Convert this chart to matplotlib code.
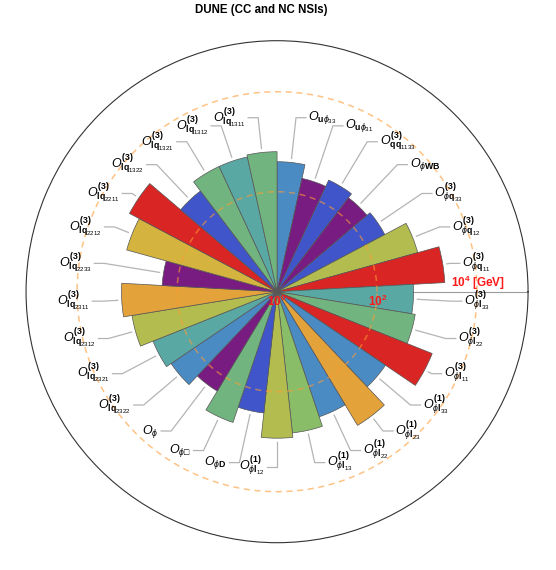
import numpy as np
import matplotlib.pyplot as plt

plt.rcParams['font.family'] = ['Liberation Sans', 'DejaVu Sans']
plt.rcParams['mathtext.fontset'] = 'custom'
plt.rcParams['mathtext.rm'] = 'Liberation Sans'
plt.rcParams['mathtext.it'] = 'Liberation Sans:italic'
plt.rcParams['mathtext.bf'] = 'Liberation Sans:bold'

# operators, clockwise from 12 o'clock
labels = [
    r'$O_{\mathbf{u}\phi_{33}}$',
    r'$O_{\mathbf{u}\phi_{31}}$',
    r'$O^{\mathbf{(3)}}_{\mathbf{qq}_{1133}}$',
    r'$O_{\phi\mathbf{WB}}$',
    r'$O^{\mathbf{(3)}}_{\phi\mathbf{q}_{33}}$',
    r'$O^{\mathbf{(3)}}_{\phi\mathbf{q}_{12}}$',
    r'$O^{\mathbf{(3)}}_{\phi\mathbf{q}_{11}}$',
    r'$O^{\mathbf{(3)}}_{\phi\mathbf{l}_{33}}$',
    r'$O^{\mathbf{(3)}}_{\phi\mathbf{l}_{22}}$',
    r'$O^{\mathbf{(3)}}_{\phi\mathbf{l}_{11}}$',
    r'$O^{\mathbf{(1)}}_{\phi\mathbf{l}_{33}}$',
    r'$O^{\mathbf{(1)}}_{\phi\mathbf{l}_{23}}$',
    r'$O^{\mathbf{(1)}}_{\phi\mathbf{l}_{22}}$',
    r'$O^{\mathbf{(1)}}_{\phi\mathbf{l}_{13}}$',
    r'$O^{\mathbf{(1)}}_{\phi\mathbf{l}_{12}}$',
    r'$O_{\phi\mathbf{D}}$',
    r'$O_{\phi\mathrm{□}}$',
    r'$O_{\phi}$',
    r'$O^{\mathbf{(3)}}_{\mathbf{lq}_{2322}}$',
    r'$O^{\mathbf{(3)}}_{\mathbf{lq}_{2321}}$',
    r'$O^{\mathbf{(3)}}_{\mathbf{lq}_{2312}}$',
    r'$O^{\mathbf{(3)}}_{\mathbf{lq}_{2311}}$',
    r'$O^{\mathbf{(3)}}_{\mathbf{lq}_{2233}}$',
    r'$O^{\mathbf{(3)}}_{\mathbf{lq}_{2212}}$',
    r'$O^{\mathbf{(3)}}_{\mathbf{lq}_{2211}}$',
    r'$O^{\mathbf{(3)}}_{\mathbf{lq}_{1322}}$',
    r'$O^{\mathbf{(3)}}_{\mathbf{lq}_{1321}}$',
    r'$O^{\mathbf{(3)}}_{\mathbf{lq}_{1312}}$',
    r'$O^{\mathbf{(3)}}_{\mathbf{lq}_{1311}}$',
]

# new physics scale in GeV
scales = [398, 209, 288, 229, 275, 832, 2290, 537, 631, 2190,
          417, 1320, 437, 692, 851, 275, 575, 209, 363, 468,
          871, 1290, 200, 1320, 2190, 339, 575, 575, 631]

colors = ['#4A8BC4', '#781C81', '#3F55C9', '#781C81', '#3F55C9',
          '#B3BD4F', '#D92523', '#5AA8A3', '#72B47F', '#D92523',
          '#4A8BC4', '#E3A23A', '#4A8BC4', '#8ABD68', '#B3BD4F',
          '#3F55C9', '#72B47F', '#781C81', '#4A8BC4', '#5AA8A3',
          '#B3BD4F', '#E3A23A', '#781C81', '#D4B43E', '#D92523',
          '#3F55C9', '#72B47F', '#5AA8A3', '#72B47F']

n = len(scales)
w = 2 * np.pi / n
theta = np.pi / 2 - (np.arange(n) + 0.5) * w
rmax = 10 ** 5.02

fig = plt.figure(figsize=(5.56, 5.70), dpi=100)
ax = fig.add_axes([0.0468, 0.0479, 0.903, 0.8807], projection='polar')
ax.set_rscale('log')
ax.set_rlim(1, rmax)

ax.plot([0, 0], [1, rmax], color='#9a9a9a', lw=0.8, zorder=1)
ax.bar(theta, np.array(scales) - 1, width=w, bottom=1, color=colors,
       edgecolor='#555555', linewidth=0.5, zorder=2)

tt = np.linspace(0, 2 * np.pi, 500)
for rr in [1e2, 1e4]:
    ax.plot(tt, np.full_like(tt, rr), ls=(0, (4, 3)), color='#FF9A33',
            lw=1.1, alpha=0.6, zorder=3)

# leader lines and labels
for th, s, lab in zip(theta, scales, labels):
    r0 = np.log10(s) + 0.08
    r1 = 3.5
    x1, y1 = r1 * np.cos(th), r1 * np.sin(th)
    sgn = 1 if np.cos(th) > 0.01 else -1
    x2 = x1 + sgn * 0.2
    x3 = x2 + sgn * 0.05
    ax.plot([th, th, np.arctan2(y1, x2)],
            [10 ** r0, 10 ** r1, 10 ** np.hypot(x2, y1)],
            color='#b4b4b4', lw=0.9, zorder=1)
    ax.text(np.arctan2(y1, x3), 10 ** np.hypot(x3, y1), lab,
            ha='left' if sgn > 0 else 'right', va='center', fontsize=9)

red = '#FF1A1A'
ax.text(np.deg2rad(-90), 10 ** 0.2, r'$\mathbf{10^{0}}$', color=red,
        ha='center', va='center', fontsize=8.5, zorder=5)
ax.text(np.deg2rad(-5.6), 10 ** 2.03, r'$\mathbf{10^{2}}$', color=red,
        ha='center', va='center', fontsize=8.5, zorder=5)
ax.text(np.deg2rad(2.6), 10 ** 4.02, r'$\mathbf{10^{4}}$ [GeV]', color=red,
        ha='center', va='center', fontsize=8.5, fontweight='bold', zorder=5)

ax.grid(False)
ax.set_xticks([])
ax.set_yticks([])
ax.set_yticks([], minor=True)
ax.spines['polar'].set_linewidth(0.8)
ax.spines['polar'].set_color('#333333')

fig.text(0.4694, 0.982, 'DUNE (CC and NC NSIs)', ha='center', va='center',
         fontsize=8.3, fontweight='bold')

fig.savefig('out.png', dpi=100)
